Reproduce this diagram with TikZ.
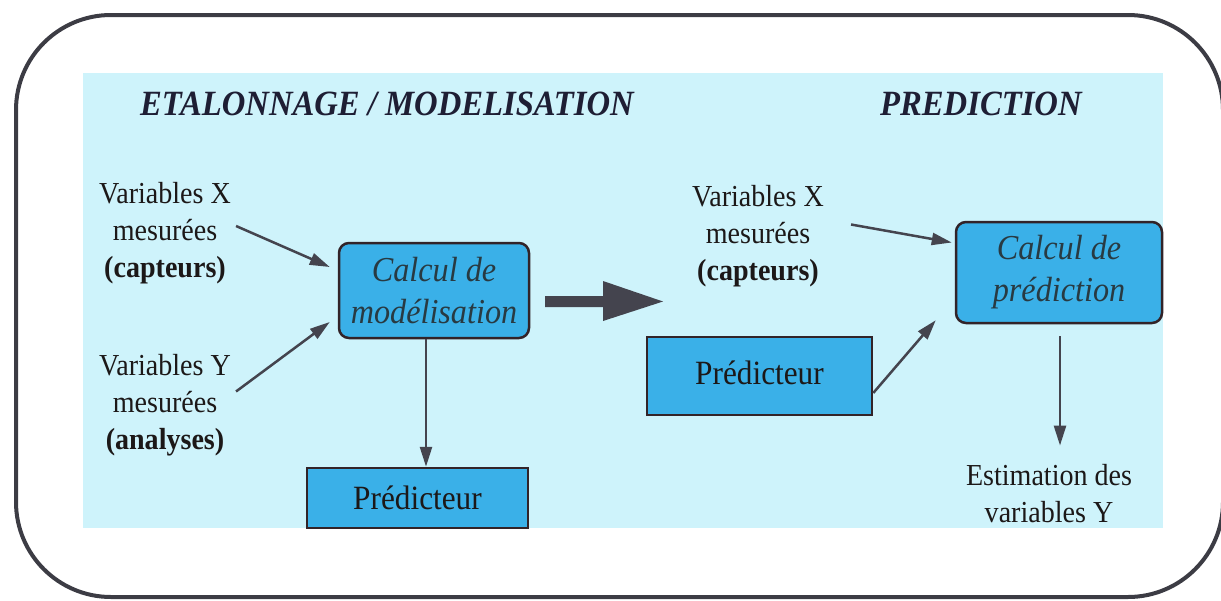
\documentclass[tikz,border=0pt]{standalone}
\usepackage{fontspec}
\setmainfont{Liberation Serif}[FakeStretch=0.92]
\usetikzlibrary{arrows.meta,calc}
\definecolor{bgcyan}{RGB}{206,243,251}
\definecolor{boxblue}{RGB}{58,176,232}
\definecolor{boxline}{RGB}{50,35,40}
\definecolor{arrgray}{RGB}{68,68,78}
\definecolor{framegray}{RGB}{60,60,68}
\definecolor{boxtext}{RGB}{40,58,66}
\definecolor{titletext}{RGB}{30,30,52}
\definecolor{bodytext}{RGB}{28,24,24}
\begin{document}
\begin{tikzpicture}[x=1pt,y=-1pt,
  txt/.style={inner sep=0pt, align=center, text=bodytext,
    font=\fontsize{30.5}{37}\selectfont},
  ttl/.style={inner sep=0pt, text=titletext,
    font=\fontsize{35.5}{40}\selectfont\bfseries\itshape},
  calcbox/.style={draw=boxline, line width=2.5pt, fill=boxblue, rounded corners=10pt,
    inner sep=0pt, align=center, text=boxtext,
    font=\fontsize{35}{42}\selectfont\itshape},
  predbox/.style={draw=boxline, line width=2.5pt, fill=boxblue,
    inner sep=0pt, text=bodytext, font=\fontsize{34}{40}\selectfont},
  arr/.style={draw=arrgray, line width=2.5pt, -{Triangle[length=20pt,width=12pt]}}
]
\useasboundingbox (0,0) rectangle (1221,600);
% background panel
\fill[bgcyan] (83,73) rectangle (1163,528);
% outer frame
\draw[framegray, line width=4pt, rounded corners=95pt] (16,15) rectangle (1223,597);

% titles
\node[ttl, anchor=base west] (t1) at (140,115) {ETALONNAGE / MODELISATION};
\node[ttl, anchor=base west] (t2) at (880,115) {PREDICTION};

% left part
\node[txt] (xl) at (165,233) {Variables X\\mesurées\\\textbf{(capteurs)}};
\node[txt] (yl) at (165,405) {Variables Y\\mesurées\\\textbf{(analyses)}};
\node[calcbox, minimum width=190pt, minimum height=95pt] (mod) at (434,290.5)
  {Calcul de\\modélisation};
\node[predbox, minimum width=221pt, minimum height=60pt] (predl) at (417.5,498)
  {Prédicteur};

\draw[arr] ($(xl.east)+(5,-7)$) -- ($(mod.west)+(-8,-23.5)$);
\draw[arr] ($(yl.east)+(5,-13.5)$) -- ($(mod.west)+(-8,31.5)$);
\draw[arr] ($(mod.south)+(-8,0)$) -- ($(predl.north)+(8.5,0)$);

% big arrow
\fill[arrgray] (545,296) -- (603,296) -- (603,281) -- (663,301.5) -- (603,321)
  -- (603,307) -- (545,307) -- cycle;

% right part
\node[txt] (xr) at (758,236.5) {Variables X\\mesurées\\\textbf{(capteurs)}};
\node[calcbox, minimum width=206pt, minimum height=101pt] (pred) at (1059,272.5)
  {Calcul de\\prédiction};
\node[predbox, minimum width=225pt, minimum height=78pt] (predr) at (759.5,376)
  {\raisebox{7pt}{Prédicteur}};
\node[txt] (est) at (1049,494) {Estimation des\\variables Y};

\draw[arr] ($(xr.east)+(27,-12)$) -- ($(pred.west)+(-3,-30)$);
\draw[arr] ($(predr.east)+(0,17)$) -- ($(pred.south west)+(-19,-4)$);
\draw[arr] ($(pred.south)+(1,12)$) -- ($(est.north)+(11,-19)$);
\end{tikzpicture}
\end{document}
